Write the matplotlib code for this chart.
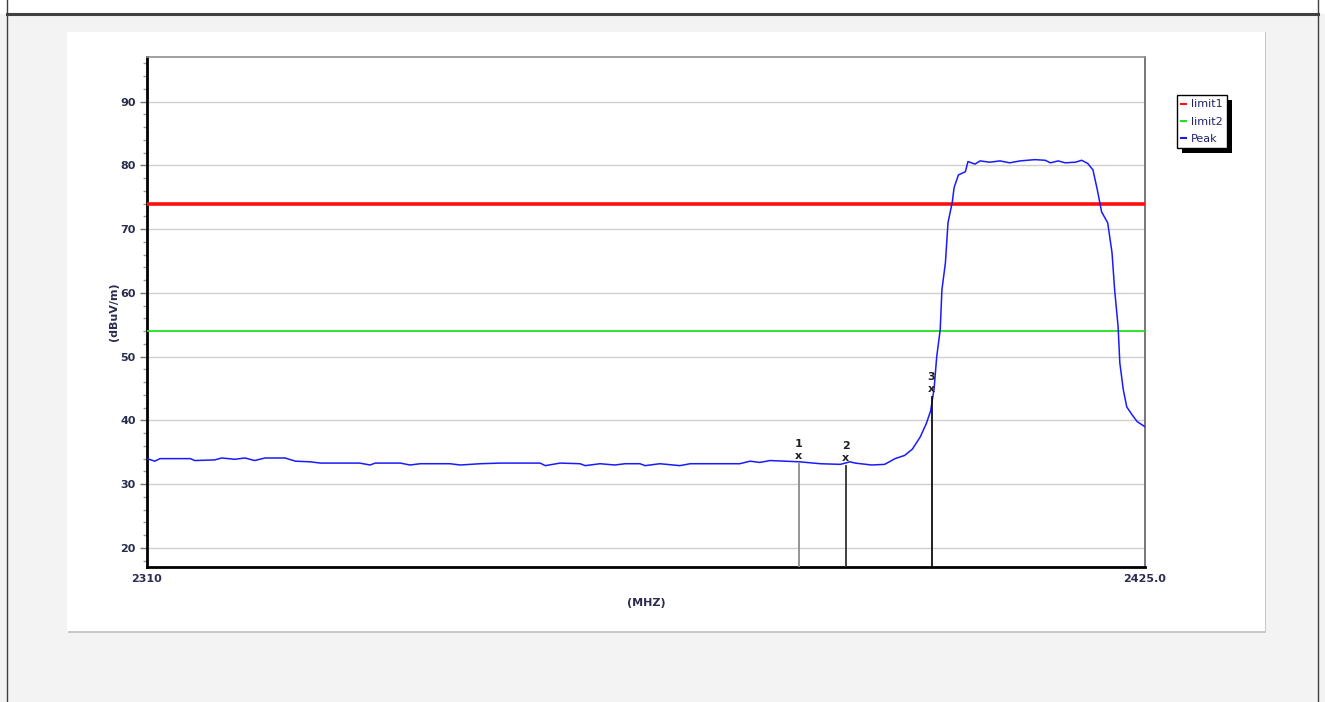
import numpy as np
import matplotlib
matplotlib.use("Agg")
import matplotlib.pyplot as plt
from matplotlib.patches import Rectangle
from matplotlib.lines import Line2D

# Peak trace (MHz, dBuV/m)
peak_freq = [
    2310.0, 2310.9, 2311.5, 2315.0, 2315.5, 2317.8, 2318.6, 2320.1, 2321.3, 2322.4,
    2323.6, 2325.9, 2327.1, 2328.8, 2330.0, 2334.5, 2335.7, 2336.3, 2339.2, 2340.3,
    2341.5, 2344.9, 2346.1, 2348.4, 2350.7, 2355.3, 2355.9, 2357.6, 2359.9, 2360.5,
    2362.2, 2363.9, 2365.1, 2366.8, 2367.4, 2369.1, 2371.4, 2372.6, 2378.3, 2379.5,
    2380.6, 2381.8, 2385.2, 2387.6, 2389.9, 2391.0, 2391.6, 2393.5, 2395.0, 2396.2,
    2397.3, 2398.2, 2399.1, 2399.8, 2400.3, 2400.7, 2401.0, 2401.4, 2401.6, 2402.0,
    2402.3, 2402.8, 2403.0, 2403.5, 2404.3, 2404.6, 2405.4, 2406.0, 2407.1, 2408.3,
    2409.4, 2410.6, 2412.3, 2413.5, 2414.1, 2415.0, 2415.8, 2417.0, 2417.7, 2418.4,
    2419.0, 2419.5, 2420.0, 2420.7, 2421.2, 2421.5, 2421.9, 2422.1, 2422.5, 2422.9,
    2423.5, 2424.1, 2425.0,
]
peak_level = [
    34.0, 33.6, 34.0, 34.0, 33.7, 33.8, 34.1, 33.9, 34.1, 33.7,
    34.1, 34.1, 33.6, 33.5, 33.3, 33.3, 33.0, 33.3, 33.3, 33.0,
    33.2, 33.2, 33.0, 33.2, 33.3, 33.3, 32.9, 33.3, 33.2, 32.9,
    33.2, 33.0, 33.2, 33.2, 32.9, 33.2, 32.9, 33.2, 33.2, 33.6,
    33.4, 33.7, 33.5, 33.2, 33.1, 33.5, 33.3, 33.0, 33.1, 34.0,
    34.5, 35.5, 37.4, 39.5, 41.5, 45.0, 50.0, 54.2, 60.5, 64.7,
    71.0, 74.3, 76.5, 78.5, 79.0, 80.6, 80.2, 80.7, 80.5, 80.7,
    80.4, 80.7, 80.9, 80.8, 80.4, 80.7, 80.4, 80.5, 80.8, 80.3,
    79.3, 76.2, 72.7, 71.0, 66.3, 60.5, 54.7, 49.0, 44.8, 42.1,
    40.9, 39.8, 39.0,
]

limit1 = 74.0
limit2 = 54.0

marker_ids = ["1", "2", "3"]
marker_freq = [2385.1, 2390.5, 2400.4]
marker_level = [33.5, 33.2, 44.0]
marker_colors = ["#8c8c8c", "#303030", "#101010"]

y_ticks = [20, 30, 40, 50, 60, 70, 80, 90]
x_ticks = [2310, 2425]
x_tick_labels = ["2310", "2425.0"]

W, H = 1325, 702
TEXT = "#2b2b50"


def fx(px):
    return px / W


def fy(py):
    return 1 - py / H


plt.rcParams["font.family"] = ["DejaVu Sans"]

fig = plt.figure(figsize=(W / 100, H / 100), dpi=100)
fig.patch.set_facecolor("#f3f3f3")

# page decoration: white strip on top, frame lines, white chart panel
fig.add_artist(Rectangle((0, fy(14)), 1, 1 - fy(14), transform=fig.transFigure,
                         facecolor="white", edgecolor="none", zorder=0))
fig.add_artist(Line2D([fx(7), fx(1318)], [fy(14), fy(14)], transform=fig.transFigure,
                      color="#404040", lw=2.2))
fig.add_artist(Line2D([fx(7), fx(7)], [0, 1], transform=fig.transFigure,
                      color="#404040", lw=1))
fig.add_artist(Line2D([fx(1318), fx(1318)], [0, 1], transform=fig.transFigure,
                      color="#404040", lw=1))
fig.add_artist(Rectangle((fx(68), fy(633)), fx(1266 - 68), fy(32) - fy(633),
                         transform=fig.transFigure, facecolor="#c8c8c8",
                         edgecolor="none", zorder=0))
fig.add_artist(Rectangle((fx(67), fy(631)), fx(1265 - 67), fy(32) - fy(631),
                         transform=fig.transFigure, facecolor="white",
                         edgecolor="none", zorder=0))

ax = fig.add_axes([fx(147), fy(567), fx(1145 - 147), fy(57) - fy(567)])
ax.set_facecolor("white")

ax.plot(peak_freq, peak_level, color="#1a1aff", lw=1.1, zorder=4, label="Peak")
ax.axhline(limit1, color="#ff1010", lw=2.6, zorder=3, label="limit1")
ax.axhline(limit2, color="#22e022", lw=1.3, zorder=3, label="limit2")

# marker lines with "x" and number labels
for mid, mf, ml, mc in zip(marker_ids, marker_freq, marker_level, marker_colors):
    ax.plot([mf, mf], [17, ml - 0.3], color=mc, lw=1.3, zorder=5)
    ax.text(mf, ml + 0.1, "x", ha="center", va="bottom", fontsize=8,
            fontweight="bold", color="#202020", zorder=6)
    ax.text(mf, ml + 2.0, mid, ha="center", va="bottom", fontsize=8,
            fontweight="bold", color="#202020", zorder=6)

ax.set_xlim(2310, 2425)
ax.set_ylim(17, 97)
ax.set_yticks(y_ticks)
ax.set_yticks(np.arange(18, 97, 2), minor=True)
ax.set_xticks(x_ticks)
ax.set_xticklabels(x_tick_labels)
ax.yaxis.grid(True, color="#cfcfcf", lw=1)
ax.set_axisbelow(True)

ax.tick_params(axis="y", which="major", length=5, width=1, color="#777777",
               labelsize=8, labelcolor=TEXT, pad=3)
ax.tick_params(axis="y", which="minor", length=3, width=1, color="#999999")
ax.tick_params(axis="x", length=0, labelsize=8, labelcolor=TEXT, pad=5)
for lab in ax.get_yticklabels() + ax.get_xticklabels():
    lab.set_fontweight("bold")

ax.spines["left"].set_linewidth(2)
ax.spines["bottom"].set_linewidth(2)
ax.spines["left"].set_color("black")
ax.spines["bottom"].set_color("black")
ax.spines["top"].set_color("#909090")
ax.spines["right"].set_color("#606060")
ax.spines["top"].set_linewidth(1.2)
ax.spines["right"].set_linewidth(1.2)

ax.set_xlabel("(MHZ)", fontsize=8, fontweight="bold", color=TEXT, labelpad=10)
ax.set_ylabel("(dBuV/m)", fontsize=8, fontweight="bold", color=TEXT, labelpad=1)

handles, labels = ax.get_legend_handles_labels()
order = [labels.index(n) for n in ["limit1", "limit2", "Peak"]]
leg = fig.legend([handles[i] for i in order], [labels[i] for i in order],
                 loc="upper left", bbox_to_anchor=(fx(1177), fy(95)),
                 fontsize=8, frameon=True, fancybox=False, edgecolor="black",
                 framealpha=1, handlelength=0.45, handletextpad=0.4,
                 borderpad=0.4, labelspacing=0.65, borderaxespad=0)
leg.get_frame().set_linewidth(1)
leg.set_zorder(10)
for t in leg.get_texts():
    t.set_color("#22226a")
for h in leg.legend_handles:
    h.set_linewidth(1.5)

# black drop shadow behind the legend box
fig.canvas.draw()
bb = leg.get_window_extent()
fig.add_artist(Rectangle((bb.x0 + 5, bb.y0 - 5), bb.width, bb.height,
                         transform=None, facecolor="black", edgecolor="none",
                         zorder=9))

fig.savefig("out.png", dpi=100)
